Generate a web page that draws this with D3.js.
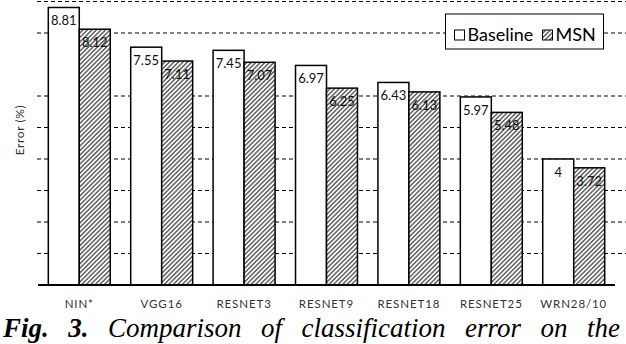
<!doctype html>
<html>
  <head>
    <script src="https://cdnjs.cloudflare.com/ajax/libs/d3/7.8.5/d3.min.js"></script>
    <style>
      body { margin: 0; background: #fff; }
    </style>
  </head>
  <body>
    <svg></svg>
    <script>
      var width = 626,
          height = 344;

      // data
      var models = ["NIN*", "VGG16", "RESNET3", "RESNET9", "RESNET18", "RESNET25", "WRN28/10"];
      var baseline = [8.81, 7.55, 7.45, 6.97, 6.43, 5.97, 4];
      var msn = [8.12, 7.11, 7.07, 6.25, 6.13, 5.48, 3.72];
      var seriesNames = ["Baseline", "MSN"];
      var gridValues = [1, 2, 3, 4, 5, 6, 8, 9];
      var captionWords = ["Fig.", "3.", "Comparison", "of", "classification", "error", "on", "the"];

      var svg = d3.select("svg").attr("width", width).attr("height", height);

      // hatch for MSN
      var defs = svg.append("defs");
      var pat = defs.append("pattern")
          .attr("id", "hatch")
          .attr("patternUnits", "userSpaceOnUse")
          .attr("width", 3.2).attr("height", 3.2)
          .attr("patternTransform", "rotate(45)");
      pat.append("rect").attr("width", 3.2).attr("height", 3.2).attr("fill", "#fff");
      pat.append("line")
          .attr("x1", 0.8).attr("y1", 0).attr("x2", 0.8).attr("y2", 3.2)
          .attr("stroke", "#555").attr("stroke-width", 1.4);

      var x0 = d3.scaleBand().domain(models).range([38, 615]).paddingInner(0.248).paddingOuter(0.125);
      var x1 = d3.scaleBand().domain(seriesNames).range([0, x0.bandwidth()]);
      var y = d3.scaleLinear().domain([0, 9]).range([285, 1.5]);

      // dashed grid
      svg.append("g").selectAll("line").data(gridValues).enter().append("line")
          .attr("x1", 37).attr("x2", width)
          .attr("y1", d => y(d)).attr("y2", d => y(d))
          .attr("stroke", "#000").attr("stroke-width", 1)
          .attr("stroke-dasharray", "4,3");

      var rows = models.map((m, i) => ({model: m, vals: [baseline[i], msn[i]]}));

      var groups = svg.append("g").selectAll("g").data(rows).enter().append("g")
          .attr("transform", d => "translate(" + x0(d.model) + ",0)");

      groups.selectAll("rect").data(d => d.vals.map((v, j) => ({s: seriesNames[j], v: v}))).enter()
        .append("rect")
          .attr("x", d => x1(d.s))
          .attr("y", d => y(d.v))
          .attr("width", x1.bandwidth())
          .attr("height", d => y(0) - y(d.v))
          .attr("fill", d => d.s == "MSN" ? "url(#hatch)" : "#fff")
          .attr("stroke", "#000").attr("stroke-width", 1.5);

      groups.selectAll("text").data(d => d.vals.map((v, j) => ({s: seriesNames[j], v: v}))).enter()
        .append("text")
          .attr("x", d => x1(d.s) + x1.bandwidth() / 2)
          .attr("y", d => y(d.v) + 18)
          .attr("text-anchor", "middle")
          .style("font-family", "Lato")
          .style("font-size", "13px")
          .style("fill", "#111")
          .text(d => d.v);

      // x axis
      svg.append("line")
          .attr("x1", 38).attr("x2", 615).attr("y1", y(0)).attr("y2", y(0))
          .attr("stroke", "#000").attr("stroke-width", 2.2);

      svg.append("g").selectAll("text").data(models).enter().append("text")
          .attr("x", d => x0(d) + x0.bandwidth() / 2)
          .attr("y", 308)
          .attr("text-anchor", "middle")
          .style("font-family", "Lato")
          .style("font-size", "11.5px")
          .style("letter-spacing", "0.9px")
          .style("fill", "#333")
          .text(d => d);

      // y label
      svg.append("text")
          .attr("transform", "translate(24,130) rotate(-90)")
          .attr("text-anchor", "middle")
          .style("font-family", "Lato")
          .style("font-size", "12px")
          .style("letter-spacing", "0.6px")
          .style("fill", "#333")
          .text("Error (%)");

      // legend
      var lg = svg.append("g");
      lg.append("rect").attr("x", 445.5).attr("y", 14).attr("width", 158).attr("height", 35)
          .attr("fill", "#fff").attr("stroke", "#000").attr("stroke-width", 1);
      var items = [{name: "Baseline", x: 454.5, fill: "#fff"}, {name: "MSN", x: 542.5, fill: "url(#hatch)"}];
      items.forEach(function(it) {
        lg.append("rect").attr("x", it.x).attr("y", 30).attr("width", 10).attr("height", 10)
            .attr("fill", it.fill).attr("stroke", "#000").attr("stroke-width", 1);
        lg.append("text").attr("x", it.x + 13).attr("y", 40.5)
            .style("font-family", "Lato").style("font-size", "18px").style("fill", "#000")
            .text(it.name);
      });

      // caption, justified across the width
      var cap = svg.append("g");
      var words = cap.selectAll("text").data(captionWords).enter().append("text")
          .attr("y", 337)
          .style("font-family", "Liberation Serif")
          .style("font-size", "27px")
          .style("font-style", "italic")
          .style("font-weight", (d, i) => i < 2 ? "bold" : "normal")
          .text(d => d);
      var widths = [];
      words.each(function() { widths.push(this.getComputedTextLength()); });
      var gap = (620 - 3 - d3.sum(widths)) / (captionWords.length - 1);
      var cx = 3;
      words.attr("x", function(d, i) { var p = cx; cx += widths[i] + gap; return p; });
    </script>
  </body>
</html>
